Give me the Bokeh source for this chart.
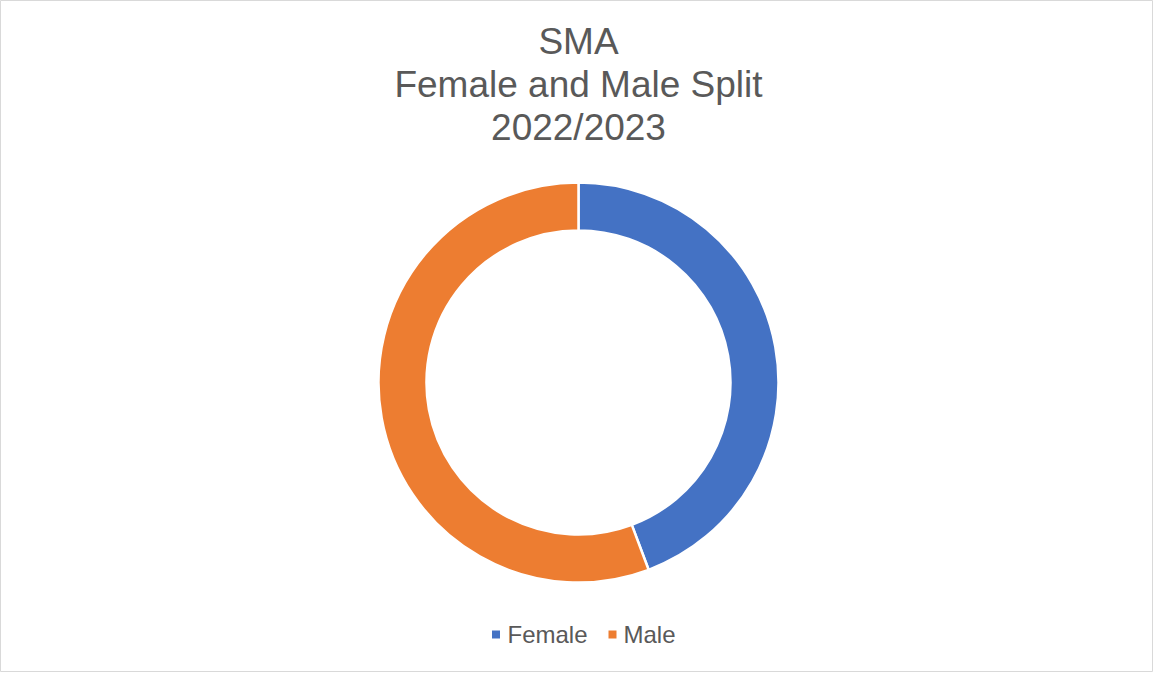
import numpy as np
from bokeh.plotting import figure
from bokeh.models import ColumnDataSource, Range1d
from bokeh.core.properties import value
from bokeh.embed import file_html
from bokeh.resources import INLINE

# ---- data ----
title_lines = ["SMA", "Female and Male Split", "2022/2023"]
categories = ["Female", "Male"]
shares = [44.3, 55.7]
colors = ["#4472C4", "#ED7D31"]

FONT = "Liberation Sans"
W, H = 1153, 672

p = figure(width=W, height=H, output_backend="svg", toolbar_location=None,
           x_range=Range1d(0, W), y_range=Range1d(0, H), min_border=0)
p.axis.visible = False
p.grid.visible = False
p.outline_line_color = "#D9D9D9"
p.outline_line_width = 1
p.background_fill_color = "white"
p.border_fill_color = "white"

# ---- donut ----
fr = np.array(shares, dtype=float) / sum(shares)
cum = np.concatenate([[0.0], np.cumsum(fr)])
start = np.pi / 2 - 2 * np.pi * cum[1:]
end = np.pi / 2 - 2 * np.pi * cum[:-1]

cx, cy = 578, H - 382
src = ColumnDataSource(dict(start=start, end=end, color=colors, cat=categories))
p.annular_wedge(x=cx, y=cy, inner_radius=152, outer_radius=200,
                inner_radius_units="screen", outer_radius_units="screen",
                start_angle="start", end_angle="end", fill_color="color",
                line_color="white", line_width=2.5, source=src)

# ---- title ----
title_y = [H - 41, H - 84, H - 127]
p.text(x=[cx] * 3, y=title_y, text=title_lines, text_font=value(FONT),
       text_font_size="37px", text_color="#595959", text_align="center",
       text_baseline="alphabetic")

# ---- legend ----
ly = H - 634
sq_x = [495.5, 612]
tx_x = [507, 623]
p.scatter(x=sq_x, y=[ly] * 2, marker="square", size=8, fill_color=colors, line_color=None)
p.text(x=tx_x, y=[ly] * 2, text=categories, text_font=value(FONT),
       text_font_size="24px", text_color="#595959", text_align="left",
       text_baseline="middle")

open("out.html", "w").write(file_html(p, INLINE))
